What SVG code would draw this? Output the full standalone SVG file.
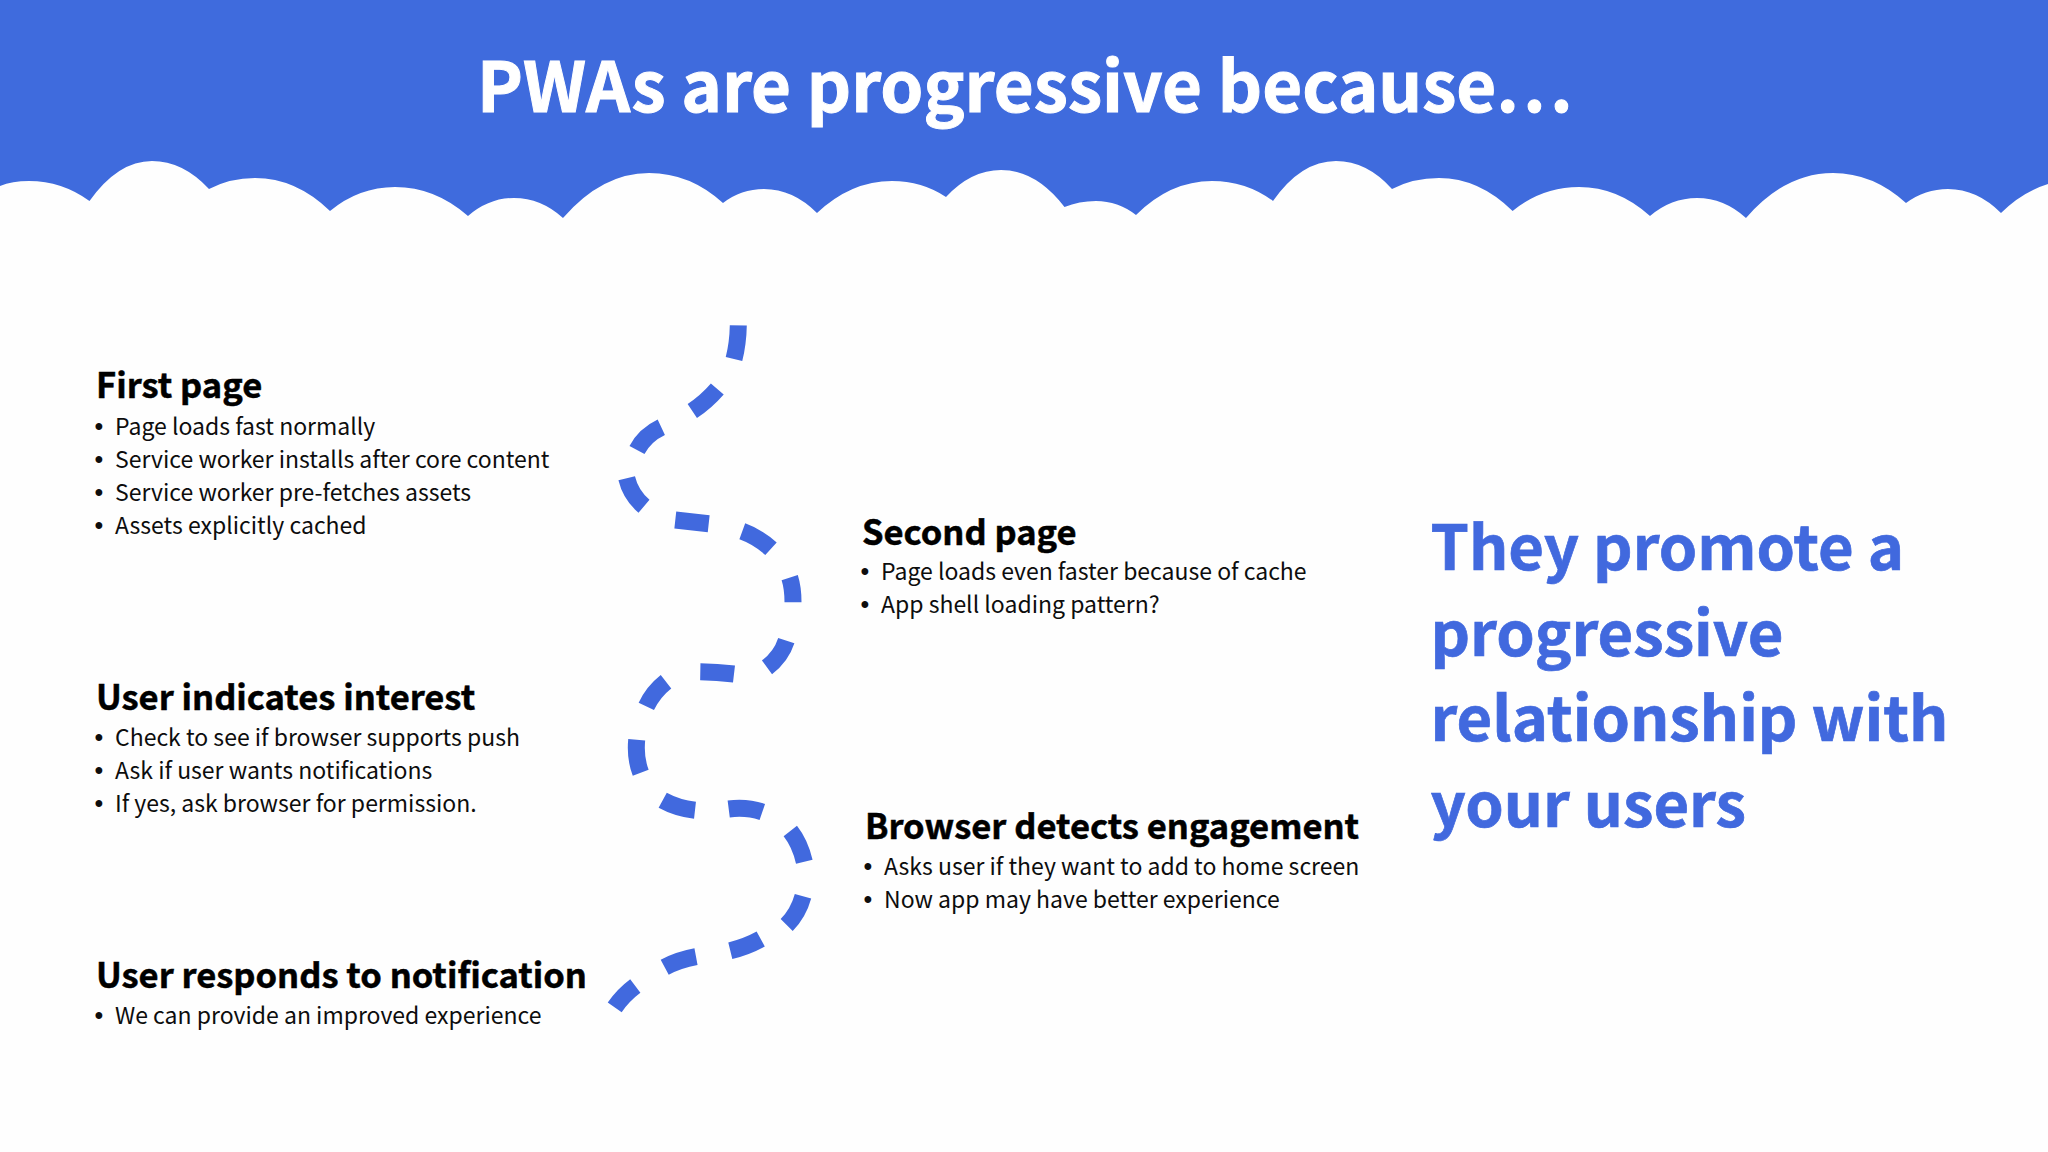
<svg xmlns="http://www.w3.org/2000/svg" width="2048" height="1152" viewBox="0 0 2048 1152">
<style>
text{font-family:"Noto Sans CJK SC","Noto Sans",sans-serif}
.h{font-size:34.5px;font-weight:700;fill:#000;stroke:#000;stroke-width:.5}
.b{font-size:23px;font-weight:400;fill:#0d0d0d}
.u{font-size:25px;font-family:"Liberation Sans",sans-serif;fill:#0d0d0d}
.d{fill:none;stroke:#4169de;stroke-width:17}
.t{font-size:68.9px;font-weight:700;fill:#fff;stroke:#fff;stroke-width:1}
.c{font-size:61.5px;font-weight:700;fill:#4169de;stroke:#4169de;stroke-width:.7}
</style>
<rect width="2048" height="1152" fill="#fefefe"/>
<path id="header" fill="#3f6bdd" d="M0 0H2048V184Q2022 192 2001 213Q1977 189 1948 189Q1925 189 1906 203Q1873 173 1833 173Q1785 173 1746 218Q1724 198 1697 198Q1671 198 1650 216Q1618 187 1579 187Q1542 187 1512.6 211Q1479 178 1439 178Q1413 178 1392 189Q1367 161 1336 161Q1301 161 1273 201Q1246 181 1212 181Q1170 181 1136 215Q1118 201 1096 201Q1079 201 1064.5 207Q1036 170 1001 170Q971 170 946 197Q922 181 892 181Q851 181 817 213Q793 189 764 189Q741 189 723 203Q690 173 649 173Q602 173 563 218Q541 198 514 198Q489 198 468 216Q435 187 395 187Q359 187 330 211Q296 178 255 178Q230 178 209 189Q183 161 152 161Q118 161 89.5 201Q62 181 29 181Q12 181 0 186Z"/>
<text id="title" class="t" x="477" y="112">PWAs are progressive because<tspan letter-spacing="4.5">...</tspan></text>
<g id="connectors">
<path class="d" d="M738.3 325.3Q738 343 734 359M717.3 389Q706 402 692.3 411M661.3 427.3Q645 435 637 450M626.7 478.3Q630.7 495 644 506.3M675.3 520L708.7 523.7M742.3 531.3Q758 537 771 548.7M789.7 577.7Q793 588 793 602.3M786.3 640.7Q781 657 767 667.3M734 674Q717 672 700.3 671.7M666 681.7Q653.3 691.7 646.3 706.3M636.7 739.7Q635 758 640.7 772.7M662.7 800.3Q677.3 808.3 695 810.3M728.7 809Q746.7 806.7 762.3 812M790.3 831Q800 843.3 804.3 861.7M803 896.3Q798.3 913.3 786.7 925M760.7 939Q746.7 946.7 730.3 950.7M696 956.7Q678.3 960 664.7 967.3M635.3 986Q623.3 995 614.7 1007.3"/>
</g>
<g id="first-page">
<text class="h" x="96" y="397.5">First page</text>
<text class="u" x="94.5" y="435">•</text><text class="b" x="115" y="435">Page loads fast normally</text>
<text class="u" x="94.5" y="468">•</text><text class="b" x="115" y="468">Service worker installs after core content</text>
<text class="u" x="94.5" y="501">•</text><text class="b" x="115" y="501">Service worker pre-fetches assets</text>
<text class="u" x="94.5" y="534">•</text><text class="b" x="115" y="534">Assets explicitly cached</text>
</g>
<g id="second-page">
<text class="h" x="862" y="544.5">Second page</text>
<text class="u" x="860.5" y="580">•</text><text class="b" x="881" y="580">Page loads even faster because of cache</text>
<text class="u" x="860.5" y="613">•</text><text class="b" x="881" y="613">App shell loading pattern?</text>
</g>
<g id="user-indicates-interest">
<text class="h" x="96" y="709.5">User indicates interest</text>
<text class="u" x="94.5" y="746">•</text><text class="b" x="115" y="746">Check to see if browser supports push</text>
<text class="u" x="94.5" y="779">•</text><text class="b" x="115" y="779">Ask if user wants notifications</text>
<text class="u" x="94.5" y="812">•</text><text class="b" x="115" y="812">If yes, ask browser for permission.</text>
</g>
<g id="browser-detects-engagement">
<text class="h" x="865" y="838.5">Browser detects engagement</text>
<text class="u" x="863.5" y="875">•</text><text class="b" x="884" y="875">Asks user if they want to add to home screen</text>
<text class="u" x="863.5" y="908">•</text><text class="b" x="884" y="908">Now app may have better experience</text>
</g>
<g id="user-responds">
<text class="h" x="96" y="988">User responds to notification</text>
<text class="u" x="94.5" y="1024">•</text><text class="b" x="115" y="1024">We can provide an improved experience</text>
</g>
<g id="callout">
<text class="c" x="1430.5" y="570">They promote a</text>
<text class="c" x="1430.5" y="655.5">progressive</text>
<text class="c" x="1430.5" y="741">relationship with</text>
<text class="c" x="1430.5" y="826.5">your users</text>
</g>
</svg>
